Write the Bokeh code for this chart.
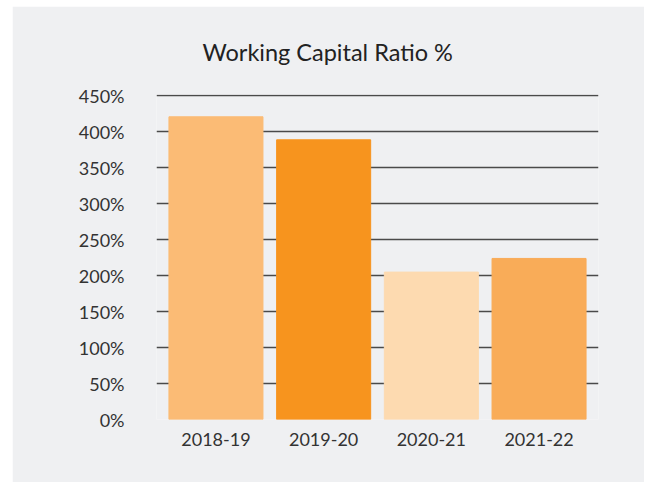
from bokeh.plotting import figure
from bokeh.layouts import row, column
from bokeh.models import Spacer, Title, FixedTicker, ColumnDataSource, FactorRange
from bokeh.embed import file_html
from bokeh.resources import INLINE

years = ["2018-19", "2019-20", "2020-21", "2021-22"]
ratios = [421, 389, 205, 224]
colors = ["#FBBB75", "#F7941E", "#FDDAB0", "#F9AC58"]
y_ticks = [0, 50, 100, 150, 200, 250, 300, 350, 400, 450]

BG = "#EFF0F2"
FONT = "Lato"

src = ColumnDataSource(dict(year=years, ratio=ratios, color=colors))

xr = FactorRange(factors=years, range_padding=0.052, range_padding_units="absolute")
p = figure(x_range=xr, y_range=(0, 452), width=632, height=476,
           output_backend="svg", toolbar_location=None,
           background_fill_color=BG, border_fill_color=BG,
           min_border_left=144, min_border_right=46,
           min_border_top=88, min_border_bottom=63)
p.outline_line_color = None

t = Title(text="Working Capital Ratio %", align="left", offset=46,
          text_font=FONT, text_font_size="23.5px", text_font_style="normal",
          text_color="#222222", standoff=58)
p.add_layout(t, "above")

p.vbar(x="year", top="ratio", width=0.873, color="color", source=src)

p.yaxis.ticker = FixedTicker(ticks=y_ticks)
p.yaxis.major_label_overrides = {v: f"{v}%" for v in y_ticks}
for ax in (p.xaxis[0], p.yaxis[0]):
    ax.axis_line_color = None
    ax.major_tick_line_color = None
    ax.minor_tick_line_color = None
    ax.major_label_text_font = FONT
    ax.major_label_text_font_size = "18px"
    ax.major_label_text_color = "#333333"
p.yaxis.major_label_standoff = 26
p.xaxis.major_label_standoff = 7

p.xgrid.grid_line_color = None
p.ygrid.grid_line_color = "#4a4a4a"
p.ygrid.grid_line_width = 1.5

layout = column(Spacer(width=644, height=6), row(Spacer(width=12, height=476), p))
open("out.html", "w").write(file_html(layout, INLINE))
